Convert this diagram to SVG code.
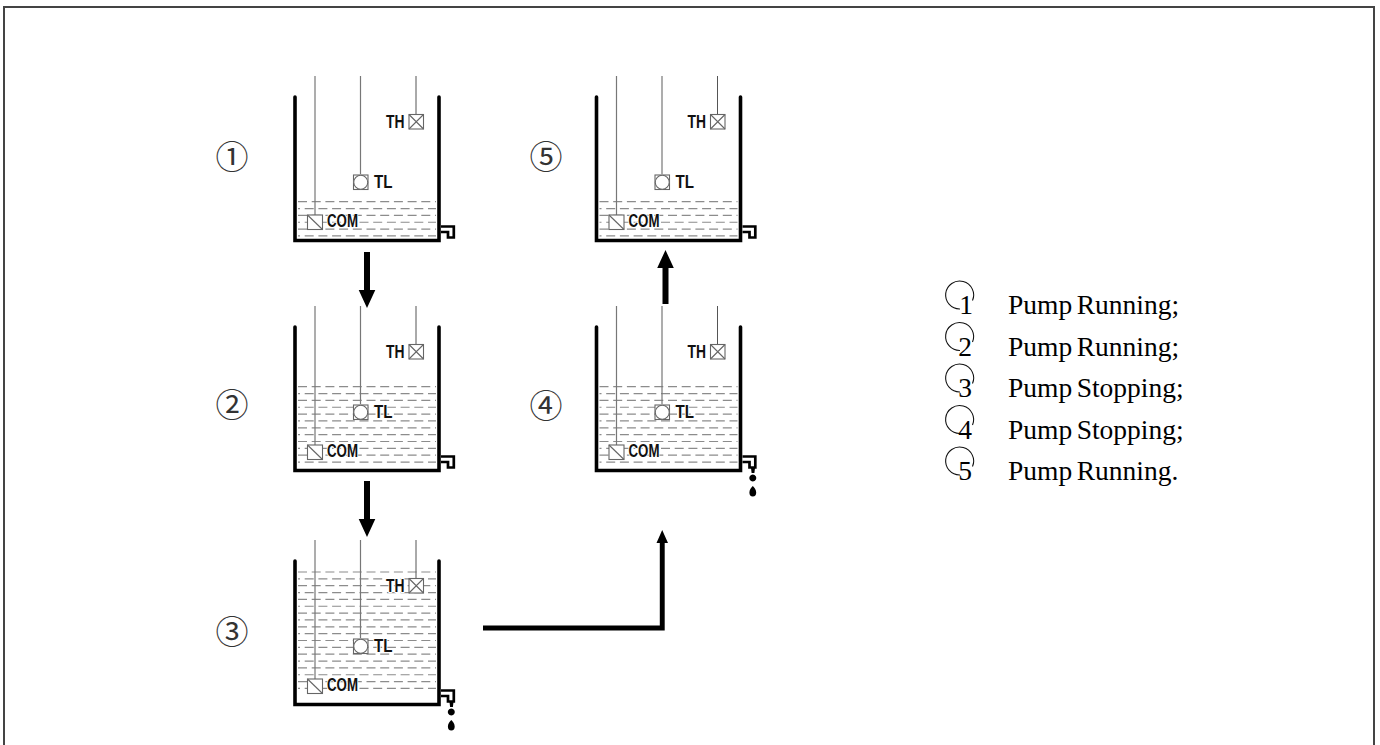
<svg xmlns="http://www.w3.org/2000/svg" width="1380" height="745" viewBox="0 0 1380 745">
<style>
.wall{fill:none;stroke:#000;stroke-width:3.6;stroke-linecap:round;stroke-linejoin:miter}
.rod{fill:none;stroke:#777;stroke-width:1.2}
.rod2{fill:none;stroke:#555;stroke-width:1}
.sensor{fill:#fff;stroke:#666;stroke-width:1.1}
.a{stroke:#8c8c8c;stroke-width:1.2;stroke-dasharray:9 4.7;fill:none}
.b{stroke:#8c8c8c;stroke-width:1.2;stroke-dasharray:9 4.7;stroke-dashoffset:7;fill:none}
.pipe{fill:none;stroke:#000;stroke-width:2.7;stroke-linejoin:miter}
.lbl{font-family:"Liberation Sans",Arial,sans-serif;font-weight:700;font-size:18px;fill:#111;stroke:#fff;stroke-width:2px;paint-order:stroke}
.num{font-family:"Noto Sans CJK JP","DejaVu Sans",sans-serif;font-size:33px;fill:#333;text-anchor:middle}
.leg{font-family:"Liberation Serif","Times New Roman",serif;font-size:27.5px;fill:#000;word-spacing:-2.4px}
.dig{font-family:"Liberation Serif","Times New Roman",serif;font-size:27.5px;fill:#000;text-anchor:middle}
.ring{fill:none;stroke:#111;stroke-width:1.1}
.flow{fill:#000;stroke:none}
</style>
<defs>
<g id="w6">
<path class="a" d="M298 0H436"/><path class="b" d="M298 6.85H436"/><path class="a" d="M298 13.7H436"/><path class="b" d="M298 20.55H436"/><path class="a" d="M298 27.4H436"/><path class="b" d="M298 34.25H436"/>
</g>
<g id="w12"><use href="#w6"/><use href="#w6" y="41.1"/></g>
<g id="w18"><use href="#w12"/><use href="#w6" y="82.2"/></g>
<g id="tank">
<path class="rod" d="M315 76V215M360.5 76V174"/>
<path class="rod2" d="M416 76V114"/>
<path class="wall" d="M295 97V240.500H439V97"/>
<path class="pipe" d="M441 226.500H453.800V237.500H448V232H441"/>
<g class="sensor">
<rect x="409" y="114.500" width="14.500" height="14.500"/><path d="M409 114.500L423.500 129M423.500 114.500L409 129"/>
<rect x="353.500" y="175" width="14.500" height="14.500"/><circle cx="360.750" cy="182.250" r="7"/>
<rect x="307.500" y="215" width="15" height="14.500"/><path d="M307.500 215L322.500 229.500"/>
</g>
</g>
<g id="drip">
<path class="flow" d="M449.500 238h4l-.6 5h-2.800zM451.300 244.500a3.500 3.500 0 1 1-.01 0zM451.300 256c1.500 1.500 3.400 3.500 3.400 6.500a3.400 4 0 0 1-6.800 0c0-3 1.900-5 3.400-6.500z"/>
</g>
<path id="arc" class="ring" d="M972.500 300.500A14 14 0 1 0 960 309"/>
</defs>

<g id="frame"><path d="M4 746V7H1374V746" fill="none" stroke="#444" stroke-width="2"/></g>

<g id="tank1">
<use href="#w6" y="201.700"/><use href="#tank"/>
<text class="lbl" x="386" y="128" textLength="18.500" lengthAdjust="spacingAndGlyphs">TH</text>
<text class="lbl" x="374" y="188" textLength="18.500" lengthAdjust="spacingAndGlyphs">TL</text>
<text class="lbl" x="327" y="227" textLength="31" lengthAdjust="spacingAndGlyphs">COM</text>
<text class="num" x="232" y="169">①</text>
</g>
<g id="tank2" transform="translate(0 230)">
<use href="#w12" y="156.700"/><use href="#tank"/>
<text class="lbl" x="386" y="128" textLength="18.500" lengthAdjust="spacingAndGlyphs">TH</text>
<text class="lbl" x="374" y="188" textLength="18.500" lengthAdjust="spacingAndGlyphs">TL</text>
<text class="lbl" x="327" y="227" textLength="31" lengthAdjust="spacingAndGlyphs">COM</text>
<text class="num" x="232" y="187">②</text>
</g>
<g id="tank3" transform="translate(0 464)">
<use href="#w18" y="108"/><use href="#tank"/><use href="#drip"/>
<text class="lbl" x="386" y="128" textLength="18.500" lengthAdjust="spacingAndGlyphs">TH</text>
<text class="lbl" x="374" y="188" textLength="18.500" lengthAdjust="spacingAndGlyphs">TL</text>
<text class="lbl" x="327" y="227" textLength="31" lengthAdjust="spacingAndGlyphs">COM</text>
<text class="num" x="232" y="180">③</text>
</g>
<g id="tank4" transform="translate(301.500 230)">
<use href="#w12" y="156.700"/><use href="#tank"/><use href="#drip"/>
<text class="lbl" x="386" y="128" textLength="18.500" lengthAdjust="spacingAndGlyphs">TH</text>
<text class="lbl" x="374" y="188" textLength="18.500" lengthAdjust="spacingAndGlyphs">TL</text>
<text class="lbl" x="327" y="227" textLength="31" lengthAdjust="spacingAndGlyphs">COM</text>
<text class="num" x="244.500" y="188">④</text>
</g>
<g id="tank5" transform="translate(301.500 0)">
<use href="#w6" y="201.700"/><use href="#tank"/>
<text class="lbl" x="386" y="128" textLength="18.500" lengthAdjust="spacingAndGlyphs">TH</text>
<text class="lbl" x="374" y="188" textLength="18.500" lengthAdjust="spacingAndGlyphs">TL</text>
<text class="lbl" x="327" y="227" textLength="31" lengthAdjust="spacingAndGlyphs">COM</text>
<text class="num" x="244.500" y="169">⑤</text>
</g>

<g id="connectors">
<path class="flow" d="M364 252h6v38h5.300l-8.300 18l-8.300-18h5.300z"/>
<path class="flow" d="M364 481h6v38h5.300l-8.300 18l-8.300-18h5.300z"/>
<path class="flow" d="M662.500 304v-36h-5.300l8.300-18l8.300 18h-5.300v36z"/>
<path class="flow" d="M483 625.500H659.800V543H656.500L662.200 530L668 543H664.700V630.500H483z"/>
</g>

<g id="legend">
<g id="leg1"><use href="#arc"/><text class="dig" x="966" y="314">1</text><text class="leg" x="1008" y="314">Pump Running;</text></g>
<g id="leg2"><use href="#arc" y="41.500"/><text class="dig" x="965" y="355.500">2</text><text class="leg" x="1008" y="355.500">Pump Running;</text></g>
<g id="leg3"><use href="#arc" y="83"/><text class="dig" x="965" y="397">3</text><text class="leg" x="1008" y="397">Pump Stopping;</text></g>
<g id="leg4"><use href="#arc" y="124.500"/><text class="dig" x="965" y="438.500">4</text><text class="leg" x="1008" y="438.500">Pump Stopping;</text></g>
<g id="leg5"><use href="#arc" y="166"/><text class="dig" x="965" y="480">5</text><text class="leg" x="1008" y="480">Pump Running.</text></g>
</g>
</svg>
